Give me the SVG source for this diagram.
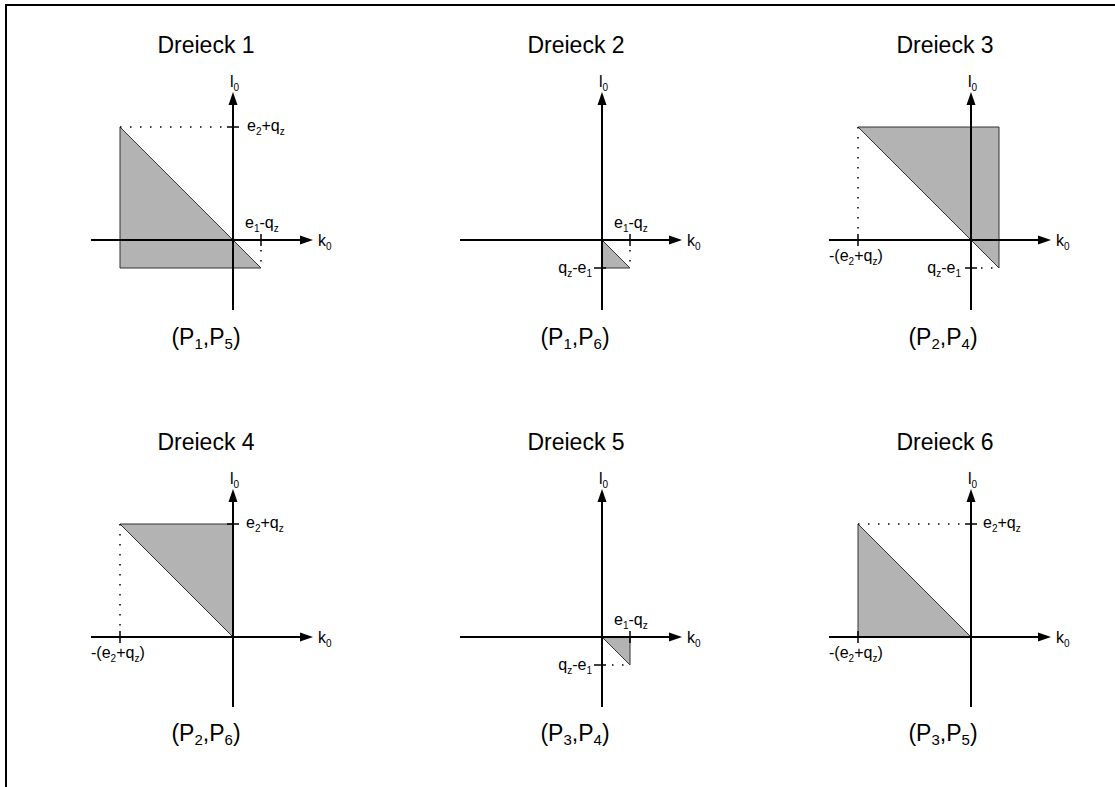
<svg xmlns="http://www.w3.org/2000/svg" width="1115" height="787" viewBox="0 0 1115 787">
<style>
.ax{stroke:#000;stroke-width:2;fill:none}
.ah{fill:#000;stroke:none}
.tri{fill:#b3b3b3;stroke:#333;stroke-width:1;stroke-linejoin:miter}
.dot{stroke:#000;stroke-width:1.5;fill:none;stroke-dasharray:1.5 8.5}
.tk{stroke:#000;stroke-width:1.5;fill:none}
text{font-family:"Liberation Sans",Arial,sans-serif;fill:#000}
.ttl{font-size:23px;text-anchor:middle}
.cap{font-size:23px;text-anchor:middle}
.cs{font-size:15px}
.lb{font-size:16px}
.ls{font-size:10px}
</style>
<defs>
<g id="axes">
<line class="ax" x1="-142" y1="0" x2="70" y2="0"/>
<polygon class="ah" points="80,0 67,-4.5 67,4.5"/>
<line class="ax" x1="0" y1="70" x2="0" y2="-138"/>
<polygon class="ah" points="0,-148 -4.5,-135 4.5,-135"/>
<text class="lb" x="-3" y="-153">l<tspan class="ls" dy="4">0</tspan></text>
<text class="lb" x="85" y="6">k<tspan class="ls" dy="4">0</tspan></text>
</g>
</defs>
<g id="frame">
<line x1="6" y1="5" x2="1115" y2="5" stroke="#000" stroke-width="2"/>
<line x1="6" y1="4" x2="6" y2="787" stroke="#000" stroke-width="2"/>
</g>
<g id="connectors"></g>

<g id="dreieck1" transform="translate(233,240)">
<polygon class="tri" points="-113,-113 -113,28 28,28"/>
<use href="#axes"/>
<line class="dot" x1="-113" y1="-113" x2="-6" y2="-113"/>
<line class="tk" x1="-6" y1="-113" x2="6" y2="-113"/>
<line class="tk" x1="28" y1="-6" x2="28" y2="6"/>
<line class="dot" x1="28" y1="10" x2="28" y2="28"/>
<text class="lb" x="14" y="-109">e<tspan class="ls" dy="4">2</tspan><tspan dy="-4">+q</tspan><tspan class="ls" dy="4">z</tspan></text>
<text class="lb" x="12" y="-12">e<tspan class="ls" dy="4">1</tspan><tspan dy="-4">-q</tspan><tspan class="ls" dy="4">z</tspan></text>
<text class="ttl" x="-27" y="-187">Dreieck 1</text>
<text class="cap" x="-27" y="105">(P<tspan class="cs" dy="4">1</tspan><tspan dy="-4">,P</tspan><tspan class="cs" dy="4">5</tspan><tspan dy="-4">)</tspan></text>
</g>

<g id="dreieck2" transform="translate(602,240)">
<polygon class="tri" points="0,0 0,28 28,28"/>
<use href="#axes"/>
<line class="tk" x1="28" y1="-6" x2="28" y2="6"/>
<line class="dot" x1="28" y1="10" x2="28" y2="28"/>
<line class="tk" x1="-8" y1="28" x2="4" y2="28"/>
<text class="lb" x="12" y="-12">e<tspan class="ls" dy="4">1</tspan><tspan dy="-4">-q</tspan><tspan class="ls" dy="4">z</tspan></text>
<text class="lb" x="-10" y="33" text-anchor="end">q<tspan class="ls" dy="4">z</tspan><tspan dy="-4">-e</tspan><tspan class="ls" dy="4">1</tspan></text>
<text class="ttl" x="-26" y="-187">Dreieck 2</text>
<text class="cap" x="-27" y="105">(P<tspan class="cs" dy="4">1</tspan><tspan dy="-4">,P</tspan><tspan class="cs" dy="4">6</tspan><tspan dy="-4">)</tspan></text>
</g>

<g id="dreieck3" transform="translate(971,240)">
<polygon class="tri" points="-113,-113 28,-113 28,28"/>
<use href="#axes"/>
<line class="dot" x1="-113" y1="-113" x2="-113" y2="-6"/>
<line class="tk" x1="-113" y1="-6" x2="-113" y2="6"/>
<line class="tk" x1="-6" y1="28" x2="6" y2="28"/>
<line class="dot" x1="10" y1="28" x2="28" y2="28"/>
<text class="lb" x="-142" y="21">-(e<tspan class="ls" dy="4">2</tspan><tspan dy="-4">+q</tspan><tspan class="ls" dy="4">z</tspan><tspan dy="-4">)</tspan></text>
<text class="lb" x="-10" y="33" text-anchor="end">q<tspan class="ls" dy="4">z</tspan><tspan dy="-4">-e</tspan><tspan class="ls" dy="4">1</tspan></text>
<text class="ttl" x="-26" y="-187">Dreieck 3</text>
<text class="cap" x="-28" y="105">(P<tspan class="cs" dy="4">2</tspan><tspan dy="-4">,P</tspan><tspan class="cs" dy="4">4</tspan><tspan dy="-4">)</tspan></text>
</g>

<g id="dreieck4" transform="translate(233,637)">
<polygon class="tri" points="-113,-113 0,-113 0,0"/>
<use href="#axes"/>
<line class="dot" x1="-113" y1="-113" x2="-113" y2="-6"/>
<line class="tk" x1="-113" y1="-6" x2="-113" y2="6"/>
<line class="tk" x1="-6" y1="-113" x2="6" y2="-113"/>
<text class="lb" x="13" y="-109">e<tspan class="ls" dy="4">2</tspan><tspan dy="-4">+q</tspan><tspan class="ls" dy="4">z</tspan></text>
<text class="lb" x="-142" y="21">-(e<tspan class="ls" dy="4">2</tspan><tspan dy="-4">+q</tspan><tspan class="ls" dy="4">z</tspan><tspan dy="-4">)</tspan></text>
<text class="ttl" x="-27" y="-187">Dreieck 4</text>
<text class="cap" x="-27" y="104">(P<tspan class="cs" dy="4">2</tspan><tspan dy="-4">,P</tspan><tspan class="cs" dy="4">6</tspan><tspan dy="-4">)</tspan></text>
</g>

<g id="dreieck5" transform="translate(602,637)">
<polygon class="tri" points="0,0 28,0 28,28"/>
<use href="#axes"/>
<line class="tk" x1="28" y1="-6" x2="28" y2="6"/>
<line class="tk" x1="-8" y1="28" x2="4" y2="28"/>
<line class="dot" x1="10" y1="28" x2="28" y2="28"/>
<text class="lb" x="12" y="-12">e<tspan class="ls" dy="4">1</tspan><tspan dy="-4">-q</tspan><tspan class="ls" dy="4">z</tspan></text>
<text class="lb" x="-10" y="33" text-anchor="end">q<tspan class="ls" dy="4">z</tspan><tspan dy="-4">-e</tspan><tspan class="ls" dy="4">1</tspan></text>
<text class="ttl" x="-26" y="-187">Dreieck 5</text>
<text class="cap" x="-27" y="104">(P<tspan class="cs" dy="4">3</tspan><tspan dy="-4">,P</tspan><tspan class="cs" dy="4">4</tspan><tspan dy="-4">)</tspan></text>
</g>

<g id="dreieck6" transform="translate(971,637)">
<polygon class="tri" points="-113,-113 -113,0 0,0"/>
<use href="#axes"/>
<line class="dot" x1="-113" y1="-113" x2="-6" y2="-113"/>
<line class="tk" x1="-6" y1="-113" x2="6" y2="-113"/>
<line class="tk" x1="-113" y1="-6" x2="-113" y2="6"/>
<text class="lb" x="12" y="-109">e<tspan class="ls" dy="4">2</tspan><tspan dy="-4">+q</tspan><tspan class="ls" dy="4">z</tspan></text>
<text class="lb" x="-142" y="21">-(e<tspan class="ls" dy="4">2</tspan><tspan dy="-4">+q</tspan><tspan class="ls" dy="4">z</tspan><tspan dy="-4">)</tspan></text>
<text class="ttl" x="-26" y="-187">Dreieck 6</text>
<text class="cap" x="-28" y="104">(P<tspan class="cs" dy="4">3</tspan><tspan dy="-4">,P</tspan><tspan class="cs" dy="4">5</tspan><tspan dy="-4">)</tspan></text>
</g>
</svg>
